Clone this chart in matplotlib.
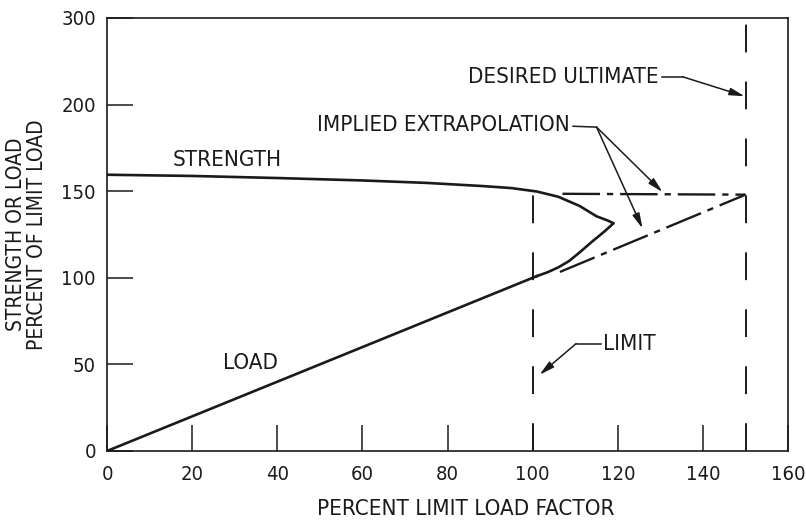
import matplotlib
matplotlib.use('Agg')
import matplotlib.pyplot as plt

plt.rcParams['lines.scale_dashes'] = False

# strength curve (upper branch, nose, lower branch)
strength_x = [0, 20, 40, 60, 75, 88, 95, 101, 106, 111, 115, 117.5, 119,
              117.2, 115.5, 114, 111, 108.5, 106, 103.5, 101]
strength_y = [159.5, 158.8, 157.6, 156.2, 154.8, 153, 151.8, 149.8, 146.8, 141.5, 135.5, 133.2, 131.5,
              127.5, 124, 121, 114.6, 109.6, 106, 103.2, 101]

load_x = [0, 101]
load_y = [0, 101]

# dash-dot extrapolations to the desired ultimate
extrap_strength_x = [107, 150]
extrap_strength_y = [148.5, 148]
extrap_load_x = [106.4, 150]
extrap_load_y = [103.4, 148]

limit_x = 100
limit_top = 158
ultimate_x = 150

xticks = [0, 20, 40, 60, 80, 100, 120, 140, 160]
yticks = [0, 50, 100, 150, 200, 250]
ytick_labels = ['0', '50', '100', '150', '200', '300']

ink = '#1a1a1a'
txt = dict(family='DejaVu Sans', stretch='condensed', fontsize=16, color=ink)

fig = plt.figure(figsize=(8.06, 5.2), dpi=100)
ax = fig.add_axes([0.1328, 0.1327, 0.845, 0.8327])

ax.plot(strength_x, strength_y, color=ink, lw=1.9, solid_joinstyle='round')
ax.plot(load_x, load_y, color=ink, lw=1.9)

dd = (0, (27, 5, 4.5, 5))
ax.plot(extrap_strength_x, extrap_strength_y, color=ink, lw=1.7, linestyle=dd)
ax.plot(extrap_load_x, extrap_load_y, color=ink, lw=1.7, linestyle=dd)

dash = (0, (20, 21))
ax.plot([limit_x, limit_x], [0, limit_top], color=ink, lw=1.4, linestyle=dash)
ax.plot([ultimate_x, ultimate_x], [0, 250], color=ink, lw=1.4, linestyle=dash)

ax.set_xlim(0, 160)
ax.set_ylim(0, 250)
ax.set_xticks(xticks)
ax.set_yticks(yticks)
ax.set_yticklabels(ytick_labels)
ax.tick_params(direction='in', length=18.5, width=1.1, color=ink, labelsize=14.5,
               top=False, right=False)
ax.tick_params(axis='x', pad=10)
ax.tick_params(axis='y', pad=8)
for lab in ax.get_xticklabels() + ax.get_yticklabels():
    lab.set_family('DejaVu Sans')
    lab.set_stretch('condensed')
    lab.set_color(ink)
for s in ax.spines.values():
    s.set_linewidth(1.2)
    s.set_color(ink)

ax.set_xlabel('PERCENT LIMIT LOAD FACTOR', **txt)
ax.xaxis.set_label_coords(0.527, -0.11)
ax.set_ylabel('STRENGTH OR LOAD\nPERCENT OF LIMIT LOAD', family='DejaVu Sans',
              stretch='condensed', fontsize=15, color=ink, linespacing=1.05)
ax.yaxis.set_label_coords(-0.088, 0.5)

ax.text(15.5, 168, 'STRENGTH', va='center', **txt)
ax.text(27.3, 51, 'LOAD', va='center', **txt)

arrow = dict(arrowstyle='-|>,head_length=0.9,head_width=0.22', color=ink, lw=1.1,
             mutation_scale=10, shrinkA=0, shrinkB=0)

# implied extrapolation leader
ax.text(108.8, 188, 'IMPLIED EXTRAPOLATION', va='center', ha='right', **txt)
ax.plot([109.5, 115], [187.5, 187], color=ink, lw=1.1)
ax.annotate('', xy=(130.5, 149.5), xytext=(115, 187), arrowprops=arrow)
ax.annotate('', xy=(125.8, 128.5), xytext=(115, 187), arrowprops=arrow)

# desired ultimate leader
ax.text(129.5, 216, 'DESIRED ULTIMATE', va='center', ha='right', **txt)
ax.plot([130.4, 135.3], [216, 216], color=ink, lw=1.1)
ax.annotate('', xy=(149.8, 204.8), xytext=(135.3, 216), arrowprops=arrow)

# limit leader
ax.text(116.5, 61.5, 'LIMIT', va='center', **txt)
ax.plot([116, 110.2], [62, 62], color=ink, lw=1.1)
ax.annotate('', xy=(101.6, 44), xytext=(110.2, 62), arrowprops=arrow)

fig.savefig('out.png', dpi=100, facecolor='white')
